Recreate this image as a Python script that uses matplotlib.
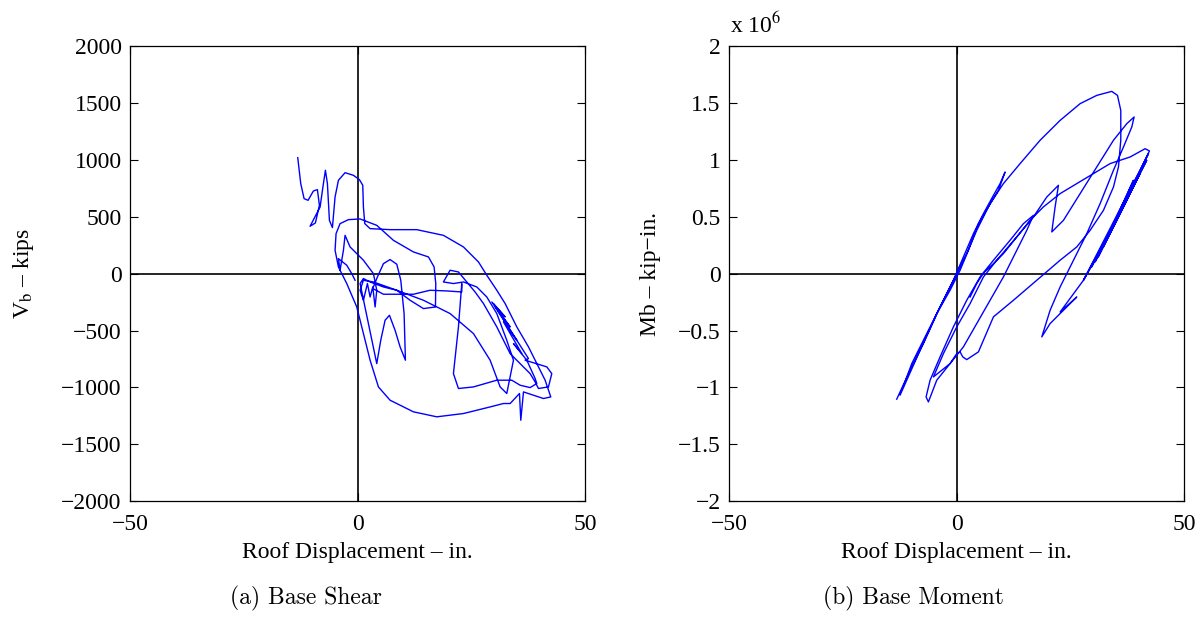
import matplotlib
matplotlib.use("Agg")
import matplotlib.pyplot as plt

plt.rcParams['font.family'] = 'Liberation Serif'
plt.rcParams['mathtext.fontset'] = 'stix'

# === Datos ===
# (a) cortante basal: desplazamiento de techo (in.) vs V_b (kips)
disp_a = [-13.15, -12.49, -11.76, -10.88, -9.71, -8.83, -8.39, -9.27, -10.44, -8.24,
          -7.51, -7.07, -6.63, -6.19, -5.53, -4.95, -4.21, -2.75, -0.92, 0.40,
          1.14, 1.28, 1.58, 2.75, 7.14, 13.0, 18.86, 23.26, 26.56, 28.39,
          30.59, 32.42, 34.98, 37.55, 39.38, 41.21, 42.45, 40.84, 38.64, 36.45,
          35.86, 35.57, 33.52, 32.05, 29.12, 23.26, 17.40, 12.27, 7.14, 4.58,
          2.75, 1.28, -0.18, -2.38, -4.21, -4.95, -4.73, -3.85, -2.01, 0.55,
          4.21, 7.88, 12.27, 15.57, 16.81, 17.18, 17.11, 14.47, 11.54, 8.61,
          5.68, 2.75, 1.28, 0.55, 4.21, 5.09, 6.04, 7.00, 8.24, 9.34,
          10.51, 10.22, 9.49, 8.61, 7.14, 5.68, 4.36, 3.33, 5.68, 12.27,
          15.93, 19.60, 22.89, 22.89, 22.16, 21.06, 22.16, 25.46, 30.59, 33.88,
          35.71, 37.91, 39.38, 39.01, 37.18, 34.25, 36.08, 32.05, 34.98, 30.22,
          33.52, 29.49, 32.42, 29.85, 37.55, 36.81, 41.58, 42.67, 41.94, 39.74,
          39.01, 37.91, 33.52, 30.59, 27.66, 25.82, 23.99, 22.16, 20.33, 18.86,
          21.06, 23.26, 26.19, 28.39, 30.59, 32.78, 34.25, 32.78, 31.32, 29.12,
          25.46, 20.33, 14.47, 8.61, 3.48, 1.28, 0.55, 1.28, 2.16, 2.75,
          3.33, 3.85, 4.21, 3.48, 1.28, -0.18, -1.65, -2.75, -3.11, -3.85,
          -4.21, -2.38, -1.28, -0.55]
shear_a = [1021, 793, 661, 646, 728, 740, 602, 447, 418, 587,
           793, 910, 793, 470, 406, 675, 822, 889, 866, 828,
           778, 587, 441, 397, 388, 388, 338, 236, 104, -13,
           -145, -262, -467, -643, -790, -936, -1083, -1097, -1068, -1039,
           -1288, -1053, -1141, -1141, -1171, -1229, -1258, -1214, -1112, -995,
           -760, -526, -292, -86, 60, 207, 353, 441, 476, 482,
           426, 294, 192, 148, 60, -86, -292, -306, -233, -145,
           -116, -72, -42, -86, -790, -585, -409, -365, -497, -643,
           -760, -350, -57, 84, 125, 89, -28, -130, -180, -180,
           -145, -151, -160, -86, -467, -878, -1009, -995, -936, -936,
           -980, -1001, -965, -921, -760, -614, -702, -423, -585, -292,
           -467, -248, -379, -262, -746, -760, -819, -878, -995, -1009,
           -951, -878, -702, -467, -262, -160, -72, 16, 31, -72,
           -86, -72, -116, -204, -350, -585, -760, -1053, -995, -760,
           -526, -350, -233, -145, -72, -57, -145, -233, -86, -204,
           -116, -292, -145, 1, 119, 177, 236, 338, 207, 31,
           133, 75, 1, -57]

# (b) momento basal: desplazamiento de techo (in.) vs Mb (x 10^6 kip-in.)
disp_b = [-13.15, -10.22, -7.29, -3.63, -0.70, 1.50, 3.70, 5.90, 8.10, 9.56,
          10.66, 9.19, 7.00, 4.80, 2.60, 0.77, -1.43, -4.36, -7.29, -9.85,
          -12.42, -10.95, -8.02, -4.36, -1.43, 0.40, 2.23, 4.43, 7.36, 10.29,
          13.96, 18.35, 22.75, 27.14, 30.81, 34.10, 35.35, 36.08, 36.08, 35.57,
          34.47, 32.27, 29.34, 26.41, 22.75, 17.62, 12.49, 8.10, 4.80, 2.23,
          1.36, 0.77, 0.04, -1.43, -4.36, -6.19, -6.70, -5.82, -3.63, -0.70,
          2.23, 5.16, 8.10, 11.76, 14.69, 16.89, 15.42, 13.22, 10.29, 7.36,
          4.43, 1.50, -1.43, -5.09, -2.89, 0.04, 2.97, 5.90, 8.83, 13.22,
          16.89, 19.82, 22.38, 21.65, 20.92, 23.48, 27.14, 30.81, 34.47, 37.40,
          39.01, 38.50, 36.67, 34.47, 31.54, 28.61, 25.68, 22.75, 20.55, 18.72,
          20.55, 23.48, 26.41, 22.75, 27.88, 42.16, 29.71, 41.79, 30.44, 40.33,
          31.17, 38.86, 32.27, 37.77, 27.88, 30.81, 34.47, 38.13, 41.06, 42.38,
          41.43, 38.13, 33.74, 30.07, 26.41, 22.75, 19.08, 16.15, 13.22, 10.29,
          8.10, 5.90, 4.43, 2.97]
moment_b = [-1.103, -0.848, -0.614, -0.292, -0.057, 0.148, 0.353, 0.529, 0.690, 0.793,
            0.895, 0.734, 0.588, 0.441, 0.207, 0.031, -0.145, -0.350, -0.585, -0.790,
            -1.068, -0.936, -0.673, -0.350, -0.116, 0.031, 0.177, 0.382, 0.617, 0.793,
            0.969, 1.174, 1.349, 1.496, 1.569, 1.604, 1.569, 1.437, 1.174, 0.939,
            0.763, 0.558, 0.382, 0.236, 0.119, -0.057, -0.233, -0.379, -0.687, -0.755,
            -0.731, -0.687, -0.702, -0.790, -0.936, -1.127, -1.083, -0.936, -0.731, -0.467,
            -0.233, -0.028, 0.119, 0.295, 0.441, 0.514, 0.382, 0.207, -0.028, -0.233,
            -0.438, -0.643, -0.790, -0.907, -0.702, -0.467, -0.262, -0.028, 0.119, 0.324,
            0.500, 0.675, 0.778, 0.588, 0.368, 0.470, 0.705, 0.939, 1.174, 1.320,
            1.379, 1.291, 1.115, 0.910, 0.617, 0.353, 0.119, -0.116, -0.321, -0.555,
            -0.438, -0.321, -0.204, -0.336, -0.057, 1.056, 0.060, 0.998, 0.104, 0.881,
            0.148, 0.822, 0.236, 0.675, -0.057, 0.148, 0.412, 0.705, 0.969, 1.080,
            1.100, 1.027, 0.969, 0.881, 0.793, 0.705, 0.588, 0.470, 0.324, 0.177,
            0.089, 0.007, -0.086, -0.204]

xticks = [-50, 0, 50]
yticks_a = [-2000, -1500, -1000, -500, 0, 500, 1000, 1500, 2000]
yticks_b = [-2, -1.5, -1, -0.5, 0, 0.5, 1, 1.5, 2]
ytick_labels_b = ["\u22122", "\u22121.5", "\u22121", "\u22120.5", "0", "0.5", "1", "1.5", "2"]

fs = 17
fig = plt.figure(figsize=(12.04, 6.18), dpi=100)
ax1 = fig.add_axes([0.108, 0.189, 0.378, 0.736])
ax2 = fig.add_axes([0.6055, 0.189, 0.378, 0.736])

for ax in (ax1, ax2):
    ax.axhline(0, color='k', linewidth=1.2, zorder=1)
    ax.axvline(0, color='k', linewidth=1.2, zorder=1)
    ax.set_xlim(-50, 50)
    ax.set_xticks(xticks)
    ax.tick_params(direction='in', top=True, right=True, length=6, width=0.8,
                   labelsize=fs, pad=6)
    ax.tick_params(axis='x', pad=9)
    for s in ax.spines.values():
        s.set_linewidth(0.9)
    ax.set_xlabel("Roof Displacement \u2013 in.", fontsize=fs, labelpad=5)

# === Grafico (a) ===
ax1.plot(disp_a, shear_a, color='#0000ff', linewidth=1.0, zorder=2)
ax1.set_ylim(-2000, 2000)
ax1.set_yticks(yticks_a)
ax1.set_ylabel("V$_\\mathrm{b}$ \u2013 kips", fontsize=fs, labelpad=18)

# === Grafico (b) ===
ax2.plot(disp_b, moment_b, color='#0000ff', linewidth=1.0, zorder=2)
ax2.set_ylim(-2, 2)
ax2.set_yticks(yticks_b)
ax2.set_yticklabels(ytick_labels_b)
ax2.set_ylabel("Mb \u2013 kip\u2212in.", fontsize=fs, labelpad=12)
fig.text(0.606, 0.938, "x 10$^6$", fontsize=fs, ha='left', va='bottom')

fig.text(0.254, 0.022, "(a) Base Shear", fontsize=fs, family='cmr10', ha='center')
fig.text(0.759, 0.022, "(b) Base Moment", fontsize=fs, family='cmr10', ha='center')

plt.savefig("out.png", dpi=100)
